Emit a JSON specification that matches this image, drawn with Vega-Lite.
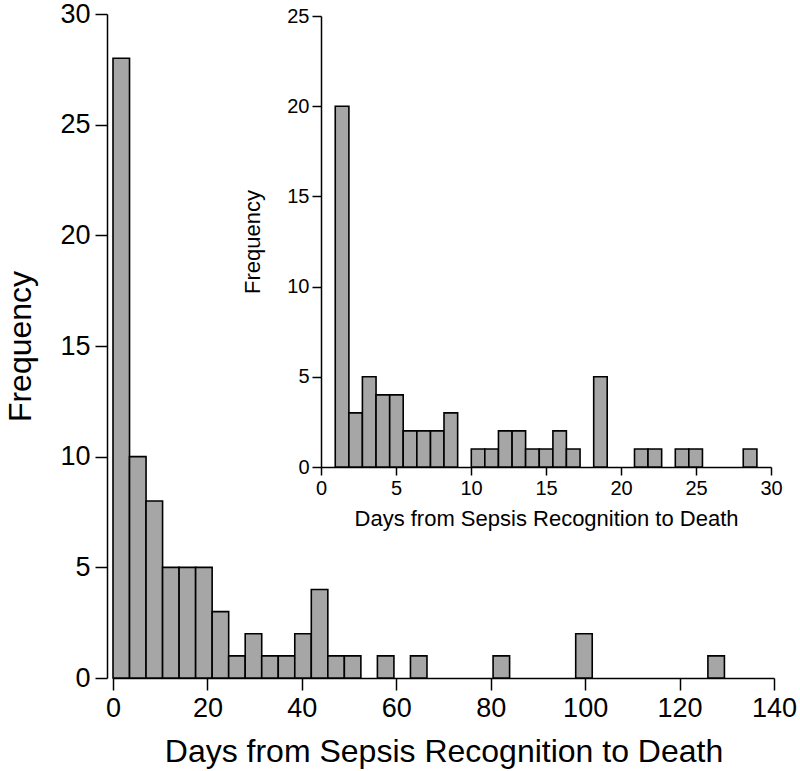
{
  "$schema": "https://vega.github.io/schema/vega-lite/v6.json",
  "description": "Histogram of days from sepsis recognition to death, with an inset for the first 30 days.",
  "width": 661,
  "height": 664,
  "autosize": "none",
  "padding": {"left": 113, "top": 14, "right": 26, "bottom": 93},
  "config": {
    "view": {"stroke": null},
    "font": "Liberation Sans",
    "axis": {
      "grid": false,
      "domainColor": "#000",
      "domainWidth": 1.5,
      "tickColor": "#000",
      "tickWidth": 1.5,
      "labelColor": "#000",
      "titleColor": "#000",
      "titleFontWeight": "normal",
      "labelFlush": false,
      "labelOverlap": false,
      "labelBound": false
    }
  },
  "datasets": {
    "all": [
      {"start": 0, "end": 3.5, "count": 28},
      {"start": 3.5, "end": 7, "count": 10},
      {"start": 7, "end": 10.5, "count": 8},
      {"start": 10.5, "end": 14, "count": 5},
      {"start": 14, "end": 17.5, "count": 5},
      {"start": 17.5, "end": 21, "count": 5},
      {"start": 21, "end": 24.5, "count": 3},
      {"start": 24.5, "end": 28, "count": 1},
      {"start": 28, "end": 31.5, "count": 2},
      {"start": 31.5, "end": 35, "count": 1},
      {"start": 35, "end": 38.5, "count": 1},
      {"start": 38.5, "end": 42, "count": 2},
      {"start": 42, "end": 45.5, "count": 4},
      {"start": 45.5, "end": 49, "count": 1},
      {"start": 49, "end": 52.5, "count": 1},
      {"start": 56, "end": 59.5, "count": 1},
      {"start": 63, "end": 66.5, "count": 1},
      {"start": 80.5, "end": 84, "count": 1},
      {"start": 98, "end": 101.5, "count": 2},
      {"start": 126, "end": 129.5, "count": 1}
    ],
    "first30": [
      {"start": 0.95, "end": 1.86, "count": 20},
      {"start": 1.86, "end": 2.76, "count": 3},
      {"start": 2.76, "end": 3.67, "count": 5},
      {"start": 3.67, "end": 4.58, "count": 4},
      {"start": 4.58, "end": 5.48, "count": 4},
      {"start": 5.48, "end": 6.39, "count": 2},
      {"start": 6.39, "end": 7.3, "count": 2},
      {"start": 7.3, "end": 8.2, "count": 2},
      {"start": 8.2, "end": 9.11, "count": 3},
      {"start": 10.02, "end": 10.92, "count": 1},
      {"start": 10.92, "end": 11.83, "count": 1},
      {"start": 11.83, "end": 12.74, "count": 2},
      {"start": 12.74, "end": 13.64, "count": 2},
      {"start": 13.64, "end": 14.55, "count": 1},
      {"start": 14.55, "end": 15.46, "count": 1},
      {"start": 15.46, "end": 16.36, "count": 2},
      {"start": 16.36, "end": 17.27, "count": 1},
      {"start": 18.18, "end": 19.08, "count": 5},
      {"start": 20.9, "end": 21.8, "count": 1},
      {"start": 21.8, "end": 22.71, "count": 1},
      {"start": 23.62, "end": 24.52, "count": 1},
      {"start": 24.52, "end": 25.43, "count": 1},
      {"start": 28.15, "end": 29.06, "count": 1}
    ]
  },
  "layer": [
    {
      "data": {"name": "all"},
      "mark": {"type": "bar", "fill": "#a6a6a6", "stroke": "#000", "strokeWidth": 1.6},
      "encoding": {
        "x": {
          "field": "start",
          "type": "quantitative",
          "scale": {"domain": [0, 140], "nice": false, "zero": false},
          "axis": {
            "values": [0, 20, 40, 60, 80, 100, 120, 140],
            "title": "Days from Sepsis Recognition to Death",
            "labelFontSize": 27,
            "titleFontSize": 32,
            "tickSize": 12,
            "labelPadding": 5,
            "titlePadding": 15
          }
        },
        "x2": {"field": "end"},
        "y": {
          "field": "count",
          "type": "quantitative",
          "scale": {"domain": [0, 30], "nice": false},
          "axis": {
            "values": [0, 5, 10, 15, 20, 25, 30],
            "title": "Frequency",
            "offset": 6,
            "labelFontSize": 27,
            "titleFontSize": 32,
            "tickSize": 12,
            "labelPadding": 5,
            "titlePadding": 22
          }
        },
        "y2": {"datum": 0}
      }
    },
    {
      "data": {"name": "first30"},
      "mark": {"type": "bar", "fill": "#a6a6a6", "stroke": "#000", "strokeWidth": 1.6},
      "encoding": {
        "x": {
          "field": "start",
          "type": "quantitative",
          "scale": {"domain": [0, 30], "nice": false, "zero": false, "range": [208, 658]},
          "axis": {
            "orient": "bottom",
            "offset": -211,
            "values": [0, 5, 10, 15, 20, 25, 30],
            "title": "Days from Sepsis Recognition to Death",
            "labelFontSize": 20,
            "titleFontSize": 22,
            "tickSize": 8,
            "labelPadding": 3,
            "titlePadding": 10
          }
        },
        "x2": {"field": "end"},
        "y": {
          "field": "count",
          "type": "quantitative",
          "scale": {"domain": [0, 25], "nice": false, "range": [453, 2]},
          "axis": {
            "orient": "left",
            "offset": -208,
            "values": [0, 5, 10, 15, 20, 25],
            "title": "Frequency",
            "labelFontSize": 20,
            "titleFontSize": 22,
            "tickSize": 9,
            "labelPadding": 3,
            "titlePadding": 22
          }
        },
        "y2": {"datum": 0}
      }
    }
  ],
  "resolve": {
    "scale": {"x": "independent", "y": "independent"},
    "axis": {"x": "independent", "y": "independent"}
  }
}
